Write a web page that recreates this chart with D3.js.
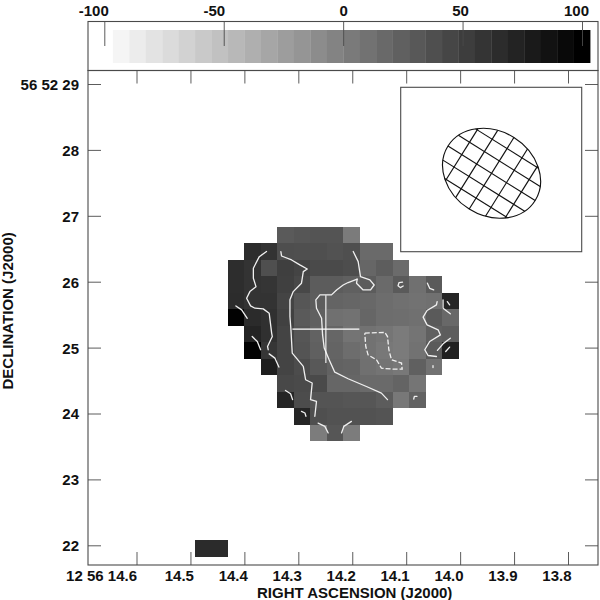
<!DOCTYPE html>
<html><head><meta charset="utf-8">
<script src="https://cdn.jsdelivr.net/npm/d3@7"></script>
<style>html,body{margin:0;padding:0;background:#fff}svg{display:block}text{font-family:"Liberation Sans",Arial,sans-serif;font-weight:bold;font-size:15px;fill:#111}</style>
</head><body><div id="c"></div>
<script>
// --- data ---
const raTicks=[14.6,14.5,14.4,14.3,14.2,14.1,14.0,13.9,13.8];
const raLabels=["12 56 14.6","14.5","14.4","14.3","14.2","14.1","14.0","13.9","13.8"];
const decTicks=[29,28,27,26,25,24,23,22];
const decLabels=["56 52 29","28","27","26","25","24","23","22"];
const wedgeTicks=[-100,-50,0,50,100];
const wedgeEdges=[-96.4,-89.5,-82.6,-75.7,-68.8,-62.0,-55.1,-48.2,-41.3,-34.4,-27.5,-20.6,-13.7,-6.8,0.1,7.0,13.8,20.7,27.6,34.5,41.4,48.3,55.2,62.1,69.0,75.8,82.7,89.6,96.5,103.4];
// map image values by row (north to south), null = blanked
const n=null;
const row00=[n,n,n,26,29,30,30,0,n,n,n,n,n,n];
const row01=[n,62,56,35,34,34,32,34,13,13,n,n,n,n];
const row02=[61,56,34,47,43,38,38,36,16,23,12,n,n,n];
const row03=[61,56,55,46,40,24,24,21,24,13,26,8,26,n];
const row04=[62,56,56,43,29,23,18,16,15,11,8,7,8,67];
const row05=[95,63,59,45,26,21,8,7,16,11,10,8,26,15];
const row06=[n,68,59,43,29,19,16,5,7,4,0,5,21,23];
const row07=[n,95,54,43,30,21,18,11,7,2,0,7,26,71];
const row08=[n,n,73,43,37,27,19,18,8,5,2,21,7,n];
const row09=[n,n,n,40,38,38,16,16,13,13,18,4,n,n];
const row10=[n,n,n,67,37,30,30,29,29,24,2,19,n,n];
const row11=[n,n,n,n,67,34,32,32,32,30,n,n,n,n];
const row12=[n,n,n,n,n,-1,29,-1,n,n,n,n,n,n];
const mapRows=[row00,row01,row02,row03,row04,row05,row06,row07,row08,row09,row10,row11,row12];
// isolated blob (col,row,value)
const blobCells=[[-2,19,63],[-1,19,63]];
// map grid geometry in world coordinates
const gridRA0=14.4304,gridDRA=0.030556,gridDec0=26.830,gridDDec=0.25;
// contours, in image pixel coordinates [col,row]
const contA=[[2.34,1.49],[1.90,1.80],[1.54,2.50],[1.54,3.11],[1.70,3.62],[1.33,3.92],[1.13,4.32],[1.37,4.79],[1.64,4.93],[2.14,4.97],[2.50,5.23],[2.65,6.44],[2.69,6.65],[2.40,7.25],[2.44,7.45]];
const contB=[[.48,4.79],[.83,5.03],[1.17,5.54]];
const contC=[[1.47,6.65],[1.78,6.95],[1.98,7.45]];
const contD=[[2.50,7.70],[2.85,7.96],[3.09,8.50]];
const contE=[[3.21,1.49],[3.25,1.76],[3.86,2.00],[4.36,2.30],[4.81,2.55],[4.57,2.71],[4.46,3.41],[3.96,3.92],[3.76,4.42],[3.76,5.43],[3.82,6.24],[3.90,7.66],[4.57,8.46],[4.71,9.27],[5.11,9.47],[5.01,10.48],[5.37,10.59],[5.27,11.49]];
const contF=[[3.49,9.92],[3.80,10.12],[3.92,10.48]];
const contG=[[4.46,11.19],[4.67,11.29],[4.73,11.49]];
const contH=[[5.47,11.90],[5.88,12.10],[6.08,12.50]];
const contI=[[6.89,12.50],[7.03,12.10],[7.49,11.80]];
const contK=[[7.60,1.49],[7.90,2.10],[8.04,3.01],[8.61,3.21],[8.87,3.52],[8.65,3.82],[8.20,3.82],[7.80,3.41],[7.84,3.17]];
const contJ=[[7.84,3.17],[7.29,3.37],[6.99,3.52],[6.59,3.82],[6.28,4.12],[5.58,4.12],[5.33,4.42],[5.37,4.93],[5.68,5.54],[5.74,6.55],[5.84,7.35],[6.14,8.06],[6.48,8.81],[7.29,9.21],[8.40,9.68],[9.31,10.08],[9.68,10.48]];
const contM=[[12.69,4.53],[12.65,4.73],[12.08,5.07],[11.84,5.47],[12.08,5.94],[12.75,6.24],[12.89,6.55],[12.24,6.95],[11.94,7.45],[12.14,7.80],[12.65,7.86]];
const contN=[[13.05,4.42],[13.05,4.93],[13.49,5.27]];
const contO=[[13.31,4.53],[13.45,4.73]];
const contP=[[13.49,6.75],[13.05,7.09],[12.71,7.49]];
const contQ=[[13.45,7.29],[13.21,7.56]];
const contR=[[12.10,3.41],[12.24,3.72],[12.48,3.82]];
const contS=[[10.59,3.35],[10.38,3.37],[10.32,3.56],[10.46,3.68],[10.63,3.58]];
const contT=[[11.27,10.44],[11.31,10.28],[11.47,10.28]];
const contU=[[12.44,8.42],[12.44,8.53]];
const solidContours=[contA,contB,contC,contD,contE,contF,contG,contH,contI,contK,contJ,contM,contN,contO,contP,contQ,contR,contS,contT,contU];
const contNeg=[[8.30,6.44],[9.52,6.40],[9.68,6.65],[9.76,7.45],[9.92,8.06],[10.53,8.26],[10.57,8.63],[10.02,8.63],[9.31,8.57],[9.01,8.06],[8.50,7.76],[8.36,7.25],[8.30,6.44]];
// position cross: centre col,row and half-widths in image pixels
const crossCentre=[5.94,6.20];
const crossHalf=[2.03,2.05];
// restoring beam (arcsec, degrees)
const beamRA=13.9417,beamDec=27.645,beamMajor=1.56,beamMinor=1.28,beamAngle=32;
const hatchMajorOffsets=[-0.534,-0.267,0,0.267,0.534];
const hatchMinorOffsets=[-0.443,-0.2215,0,0.2215,0.443];

// --- layout ---
const W=600,H=600,L=88,R=598,T=70.5,B=565,WT=21.5;
const svg=d3.select("#c").append("svg").attr("width",W).attr("height",H);
const xRA=d3.scaleLinear().domain([14.6,13.8]).range([136.5,568]);
const yDec=d3.scaleLinear().domain([29,22]).range([84,545.3]);
const xWedge=d3.scaleLinear().domain([-100,100]).range([104.3,582]);
const gray=d3.scaleLinear().domain([-96.4,96.5]).range([245,0]).clamp(true);
const grayOf=v=>{const g=Math.round(gray(v));return `rgb(${g},${g},${g})`;};
const xCell=c=>xRA(gridRA0-c*gridDRA), yCell=r=>yDec(gridDec0-r*gridDDec);
const AX="#4a4a4a";

// wedge
svg.append("g").selectAll("rect").data(wedgeEdges.slice(0,-1)).join("rect")
 .attr("x",d=>xWedge(d)).attr("y",30).attr("height",33)
 .attr("width",(d,i)=>xWedge(wedgeEdges[i+1])-xWedge(d)+0.3)
 .attr("fill",d=>grayOf(d));

// map cells
const cells=[];
mapRows.forEach((r,j)=>r.forEach((v,i)=>{if(v!==null)cells.push([i,j,v]);}));
blobCells.forEach(b=>cells.push(b));
svg.append("g").attr("shape-rendering","crispEdges").selectAll("rect").data(cells).join("rect")
 .attr("x",d=>xCell(d[0])).attr("y",d=>yCell(d[1]))
 .attr("width",d=>xCell(d[0]+1)-xCell(d[0])+0.2)
 .attr("height",d=>yCell(d[1]+1)-yCell(d[1])+0.2)
 .attr("fill",d=>grayOf(d[2]));

// contours
const line=d3.line().x(d=>xCell(d[0])).y(d=>yCell(d[1]));
svg.append("g").selectAll("path").data(solidContours).join("path").attr("d",line)
 .attr("fill","none").attr("stroke","#f0f0f0").attr("stroke-width",1.3).attr("stroke-linejoin","round").attr("stroke-linecap","round");
svg.append("path").attr("d",line(contNeg)).attr("fill","none").attr("stroke","#f0f0f0").attr("stroke-width",1.3).attr("stroke-dasharray","5 2");

// cross
const [cc,cr]=crossCentre,[hc,hr]=crossHalf;
const cg=svg.append("g").attr("stroke","#fff").attr("stroke-width",1.1);
cg.append("line").attr("x1",xCell(cc-hc)).attr("x2",xCell(cc+hc)).attr("y1",yCell(cr)).attr("y2",yCell(cr));
cg.append("line").attr("x1",xCell(cc)).attr("x2",xCell(cc)).attr("y1",yCell(cr-hr)).attr("y2",yCell(cr+hr));

// frames
const fr=svg.append("g").attr("fill","none").attr("stroke",AX).attr("stroke-width",1.1);
fr.append("rect").attr("x",L).attr("y",T).attr("width",R-L).attr("height",B-T);
fr.append("rect").attr("x",L).attr("y",WT).attr("width",R-L).attr("height",T-WT);

// axes
function clean(g){g.select(".domain").remove();g.selectAll(".tick line").attr("stroke",AX).attr("stroke-width",0.9);g.attr("font-family",null).attr("font-size",null);}
const axBottom=svg.append("g").attr("transform",`translate(0,${B})`)
 .call(d3.axisBottom(xRA).tickValues(raTicks).tickSize(-13).tickPadding(0).tickFormat((d,i)=>raLabels[i])).call(clean);
axBottom.selectAll("text").attr("text-anchor","end").attr("dy",null).attr("y",15.6).attr("x",(d,i)=>i===0?0:3);
svg.append("g").attr("transform",`translate(0,${T})`)
 .call(d3.axisTop(xRA).tickValues(raTicks).tickSize(-13).tickFormat("")).call(clean);
const axLeft=svg.append("g").attr("transform",`translate(${L},0)`)
 .call(d3.axisLeft(yDec).tickValues(decTicks).tickSize(-13).tickFormat((d,i)=>decLabels[i])).call(clean);
axLeft.selectAll("text").attr("text-anchor","end").attr("x",-9).attr("dy",null).attr("y",5.4);
svg.append("g").attr("transform",`translate(${R},0)`)
 .call(d3.axisRight(yDec).tickValues(decTicks).tickSize(-13).tickFormat("")).call(clean);
const wedgeLabelNudge=[-11,-10,0,-2.5,-6];
const axWedge=svg.append("g").attr("transform",`translate(0,${WT})`)
 .call(d3.axisTop(xWedge).tickValues(wedgeTicks).tickSize(-24.5).tickFormat(d=>String(d))).call(clean);
axWedge.selectAll("text").attr("text-anchor","middle").attr("dy",null).attr("y",-5.5).attr("x",(d,i)=>wedgeLabelNudge[i]);

// axis titles
svg.append("text").attr("x",257).attr("y",597.6).text("RIGHT ASCENSION (J2000)");
svg.append("text").attr("transform","translate(13,389.5) rotate(-90)").text("DECLINATION (J2000)");

// beam inset
svg.append("rect").attr("x",400.7).attr("y",87.3).attr("width",181).attr("height",164.4).attr("fill","#fff").attr("stroke",AX).attr("stroke-width",1.1);
const pxPerAs=yDec(0)-yDec(1);
const a=beamMajor/2*pxPerAs,b=beamMinor/2*pxPerAs;
const bg=svg.append("g").attr("transform",`translate(${xRA(beamRA)},${yDec(beamDec)}) rotate(${beamAngle})`)
 .attr("fill","none").attr("stroke","#111").attr("stroke-width",1.15);
bg.append("ellipse").attr("rx",a).attr("ry",b);
hatchMinorOffsets.forEach(o=>{const y=o*pxPerAs,h=a*Math.sqrt(1-(y/b)*(y/b));
 bg.append("line").attr("x1",-h).attr("x2",h).attr("y1",y).attr("y2",y);});
hatchMajorOffsets.forEach(o=>{const x=o*pxPerAs,h=b*Math.sqrt(1-(x/a)*(x/a));
 bg.append("line").attr("x1",x).attr("x2",x).attr("y1",-h).attr("y2",h);});
</script></body></html>
